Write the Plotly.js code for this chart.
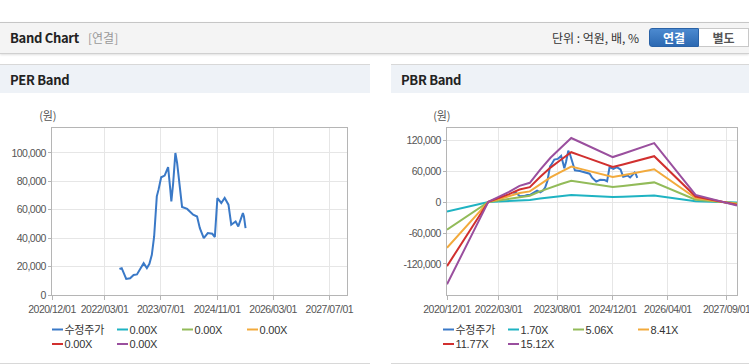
<!DOCTYPE html>
<html>
<head>
<meta charset="utf-8">
<script src="https://cdn.plot.ly/plotly-3.0.1.min.js"></script>
<style>
  html, body { margin:0; padding:0; background:#fff; }
  body { width:749px; height:364px; position:relative; overflow:hidden; font-family:"Noto Sans CJK KR","Noto Sans",sans-serif; }
  #hdr { position:absolute; left:0; top:22px; width:749px; height:30px; background:#f4f4f4; border-top:1px solid #c6c6c6; border-bottom:1px solid #d0d0d0; box-shadow:0 1px 2px rgba(0,0,0,0.12); }
  #hdr .t { position:absolute; left:10px; top:5px; font-size:13px; font-weight:bold; color:#222; letter-spacing:-0.3px; }
  #hdr .s { position:absolute; left:88px; top:6px; font-size:12px; color:#999; }
  #hdr .u { position:absolute; left:552px; top:6px; font-size:12px; color:#333; }
  #b1 { position:absolute; left:649px; top:5px; width:50px; height:19px; border-radius:3px 0 0 3px; background:linear-gradient(#4c8ad0,#2c69b2); color:#fff; font-size:12px; font-weight:bold; text-align:center; line-height:17px; border:1px solid #2a62a6; box-sizing:border-box; }
  #b2 { position:absolute; left:699px; top:5px; width:50px; height:19px; background:#fff; color:#555; font-size:12px; font-weight:bold; text-align:center; line-height:17px; border:1px solid #c8c8c8; border-left:none; box-sizing:border-box; }
  .panel { position:absolute; top:64px; height:298px; border-top:1px solid #d8d8d8; border-bottom:1px solid #d8d8d8; background:#fff; }
  .ph { position:absolute; left:0; top:0; width:100%; height:28px; background:#eef2f7; }
  .ph span { position:absolute; left:10px; top:5px; font-size:13px; font-weight:bold; color:#222; letter-spacing:-0.3px; }
  .chart { position:absolute; top:28px; left:0; }
  .chart .xtick text, .chart .ytick text { letter-spacing:-0.5px; }
  .chart .annotation-text { letter-spacing:-0.2px; }
</style>
</head>
<body>
<div id="hdr">
  <div class="t">Band Chart</div>
  <div class="s">[연결]</div>
  <div class="u">단위 : 억원, 배, %</div>
  <div id="b1">연결</div>
  <div id="b2">별도</div>
</div>
<div class="panel" style="left:0;width:370px;">
  <div class="ph"><span>PER Band</span></div>
  <div id="per" class="chart" style="width:370px;height:269px;"></div>
</div>
<div class="panel" style="left:391px;width:358px;">
  <div class="ph"><span>PBR Band</span></div>
  <div id="pbr" class="chart" style="width:358px;height:269px;"></div>
</div>
<script>
// ---------------- data ----------------
const priceDates = ['2022-07-08','2022-07-28','2022-09-05','2022-10-09','2022-11-08','2022-12-07','2023-02-03','2023-03-03','2023-03-25','2023-04-15','2023-05-05','2023-05-28','2023-06-12','2023-07-05','2023-08-04','2023-09-03','2023-09-22','2023-10-01','2023-10-16','2023-11-05','2023-11-20','2023-12-10','2024-01-02','2024-02-15','2024-04-07','2024-05-11','2024-06-04','2024-07-08','2024-08-12','2024-09-20','2024-10-12','2024-11-03','2024-12-07','2025-01-05','2025-02-07','2025-03-03','2025-04-10','2025-05-03','2025-06-12','2025-06-21','2025-07-05'];
const priceValues = [18400,18900,11300,11800,14100,14500,22400,18900,22000,28300,41200,69500,74200,82900,84100,90000,74200,65900,78000,100000,93000,78800,62000,60600,56500,55300,47100,40000,43600,43100,40800,68300,64800,68300,63600,49500,51800,48300,57700,55300,47100];

const perBandNames = ['0.00X','0.00X','0.00X','0.00X','0.00X'];

const bandDates = ['2020-12-01','2021-12-01','2022-03-01','2022-06-01','2022-09-01','2022-12-01','2023-03-01','2023-06-01','2023-09-01','2023-12-01','2024-03-01','2024-06-01','2024-09-01','2024-12-01','2025-03-01','2025-06-01','2025-09-01','2025-12-01','2026-12-01','2027-12-01'];
const pbrBandNames = ['1.70X','5.06X','8.41X','11.77X','15.12X'];
const pbr170  = [-17960,110,1160,2250,3570,4230,7070,9700,11900,14020,12990,11900,10790,9860,10580,11340,12110,12920,1600,-740];
const pbr506  = [-53440,330,3450,6690,10610,12580,21050,28880,35410,41730,38650,35410,32130,29350,31490,33770,36040,38450,4750,-2210];
const pbr841  = [-88830,560,5730,11130,17640,20920,34990,48000,58850,69360,64240,58850,53400,48780,52340,56120,59900,63910,7900,-3680];
const pbr1177 = [-124320,780,8020,15570,24680,29270,48960,67180,82360,97070,89910,82360,74730,68270,73260,78540,83840,89440,11050,-5140];
const pbr1512 = [-159700,1000,10300,20000,31700,37600,62900,86300,105800,124700,115500,105800,96000,87700,94100,100900,107700,114900,14200,-6600];

const perTickVals = ['2020-12-01','2022-03-01','2023-07-01','2024-11-01','2026-03-01','2027-07-01'];
const perTickText = ['2020/12/01','2022/03/01','2023/07/01','2024/11/01','2026/03/01','2027/07/01'];
const pbrTickVals = ['2020-12-01','2022-03-01','2023-08-01','2024-12-01','2026-04-01','2027-09-01'];
const pbrTickText = ['2020/12/01','2022/03/01','2023/08/01','2024/12/01','2026/04/01','2027/09/01'];
const pbrYTickVals = [-120000,-60000,0,60000,120000];
const pbrYTickText = ['-120,000','-60,000','0','60,000','120,000'];

const priceName = '수정주가';
const unitLabel = '(원)';
const priceColor = '#3a79c7';
const bandColors = ['#1fb3c2','#92bb59','#f2aa3c','#d1302f','#9a4f9e'];

// ---------------- helpers ----------------
const sans = 'Liberation Sans, Arial, Noto Sans CJK KR, sans-serif';
const tickFont = {family:sans, size:10.5, color:'#555'};
const legFont = {family:sans, size:11, color:'#333'};

function legend(names, colors, offX) {
  const shapes = [], annotations = [];
  names.forEach((n, i) => {
    const col = i % 4, row = Math.floor(i / 4);
    const x0 = offX + col * 65, y = -34.5 - row * 14.5;
    shapes.push({type:'line', xref:'paper', yref:'paper', xsizemode:'pixel', ysizemode:'pixel',
      xanchor:0, yanchor:0, x0:x0, x1:x0 + 11, y0:y, y1:y, line:{color:colors[i], width:2}});
    annotations.push({xref:'paper', yref:'paper', x:0, y:0, xanchor:'left', yanchor:'middle',
      xshift:x0 + 12, yshift:y, text:n, showarrow:false, font:legFont, borderpad:0, borderwidth:0});
  });
  return {shapes, annotations};
}

function baseLayout(m, xr, tv, tt) {
  return {
    width: m.w, height: 269,
    margin: {l:m.l, r:m.r, t:35, b:67},
    paper_bgcolor:'rgba(0,0,0,0)', plot_bgcolor:'#fff',
    showlegend:false,
    xaxis: {type:'date', range:xr, tickvals:tv, ticktext:tt, tickfont:tickFont, tickangle:0,
      ticklabeloverflow:'allow',
      showgrid:true, gridcolor:'#e6e6e6', gridwidth:1, showline:true, linecolor:'#b5b5b5', mirror:true,
      ticks:'outside', ticklen:4, tickcolor:'#b5b5b5', zeroline:false, fixedrange:true},
    yaxis: {tickfont:tickFont, showgrid:true, gridcolor:'#e6e6e6', showline:true, linecolor:'#b5b5b5', mirror:true,
      ticks:'outside', ticklen:3, tickcolor:'#b5b5b5', zeroline:false, fixedrange:true},
    font: tickFont
  };
}

const unitFont = {family:'Noto Sans CJK KR, sans-serif', size:11, color:'#555'};

// ---------------- PER ----------------
(function(){
  const traces = [{x:priceDates, y:priceValues, type:'scatter', mode:'lines', name:priceName,
    line:{color:priceColor, width:2}}];
  perBandNames.forEach((n, i) => traces.push({x:[], y:[], type:'scatter', mode:'lines', name:n, line:{color:bandColors[i], width:2}}));
  const lay = baseLayout({w:370, l:52, r:23}, ['2020-12-01','2027-12-01'], perTickVals, perTickText);
  lay.yaxis.range = [0, 117600];
  lay.yaxis.dtick = 20000; lay.yaxis.tick0 = 0; lay.yaxis.tickformat = ',';
  const lg = legend([priceName].concat(perBandNames), [priceColor].concat(bandColors), 0);
  lay.shapes = lg.shapes;
  lay.annotations = lg.annotations.concat([{xref:'paper', yref:'paper', x:0, y:1, xanchor:'center', yanchor:'bottom',
    xshift:-4, yshift:3, text:unitLabel, showarrow:false, font:unitFont}]);
  Plotly.newPlot('per', traces, lay, {displayModeBar:false, staticPlot:true});
})();

// ---------------- PBR ----------------
(function(){
  const bands = [pbr170, pbr506, pbr841, pbr1177, pbr1512];
  const traces = [{x:priceDates, y:priceValues, type:'scatter', mode:'lines', name:priceName, line:{color:priceColor, width:2}}];
  bands.forEach((b, i) => traces.push({x:bandDates, y:b, type:'scatter', mode:'lines', name:pbrBandNames[i],
    line:{color:bandColors[i], width:2}}));
  const lay = baseLayout({w:358, l:56, r:12}, ['2020-12-01','2027-12-01'], pbrTickVals, pbrTickText);
  lay.yaxis.range = [-180500, 144200];
  lay.yaxis.tickvals = pbrYTickVals; lay.yaxis.ticktext = pbrYTickText;
  const lg = legend([priceName].concat(pbrBandNames), [priceColor].concat(bandColors), -4);
  lay.shapes = lg.shapes;
  lay.annotations = lg.annotations.concat([{xref:'paper', yref:'paper', x:0, y:1, xanchor:'center', yanchor:'bottom',
    xshift:-5, yshift:3, text:unitLabel, showarrow:false, font:unitFont}]);
  Plotly.newPlot('pbr', traces, lay, {displayModeBar:false, staticPlot:true});
})();
</script>
</body>
</html>
